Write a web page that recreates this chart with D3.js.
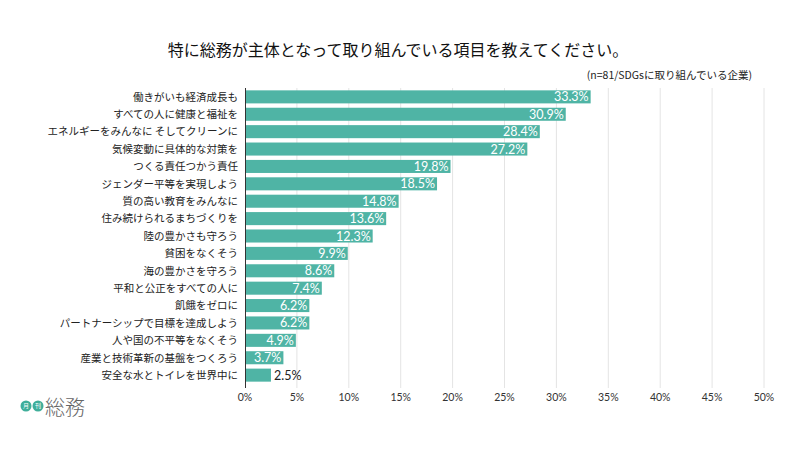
<!DOCTYPE html>
<html><head><meta charset="utf-8">
<script src="https://cdn.jsdelivr.net/npm/d3@7"></script>
<style>body{margin:0;background:#fff}svg{display:block}</style>
</head><body><svg id="c" width="800" height="450"></svg>
<script>
const categories = ["働きがいも経済成長も","すべての人に健康と福祉を","エネルギーをみんなに そしてクリーンに","気候変動に具体的な対策を","つくる責任つかう責任","ジェンダー平等を実現しよう","質の高い教育をみんなに","住み続けられるまちづくりを","陸の豊かさも守ろう","貧困をなくそう","海の豊かさを守ろう","平和と公正をすべての人に","飢餓をゼロに","パートナーシップで目標を達成しよう","人や国の不平等をなくそう","産業と技術革新の基盤をつくろう","安全な水とトイレを世界中に"];
const values = [33.3,30.9,28.4,27.2,19.8,18.5,14.8,13.6,12.3,9.9,8.6,7.4,6.2,6.2,4.9,3.7,2.5];
const ticks = [0,5,10,15,20,25,30,35,40,45,50];
const title = "特に総務が主体となって取り組んでいる項目を教えてください。";
const subtitle = "(n=81/SDGsに取り組んでいる企業)";

const jp = "'Noto Sans CJK JP', sans-serif";
const num = "Lato, 'Noto Sans', sans-serif";
const svg = d3.select("#c");
const x = d3.scaleLinear().domain([0,50]).range([245,764]);
const y = d3.scaleBand().domain(categories).range([86,386]).paddingInner(0.25).paddingOuter(0.25);
const plotTop = 88, plotBottom = 388;

// grid
svg.append("g").selectAll("line").data(ticks.slice(1)).join("line")
  .attr("x1",d=>x(d)).attr("x2",d=>x(d)).attr("y1",plotTop).attr("y2",plotBottom)
  .attr("stroke","#e4e4e4").attr("stroke-width",1);

// bars
svg.append("g").selectAll("rect").data(values).join("rect")
  .attr("x",x(0)).attr("y",(d,i)=>y(categories[i]))
  .attr("width",d=>x(d)-x(0)).attr("height",y.bandwidth())
  .attr("fill","#4fb4a5");

// value labels
svg.append("g").selectAll("text").data(values).join("text")
  .attr("x",d=> d<3 ? x(d)+3 : x(d)-2)
  .attr("y",(d,i)=>y(categories[i])+y.bandwidth()/2)
  .attr("dy","0.36em")
  .attr("text-anchor",d=> d<3 ? "start":"end")
  .attr("fill",d=> d<3 ? "#222":"#fff")
  .attr("font-family",num).attr("font-size",12.5)
  .text(d=>d.toFixed(1)+"%");

// axis line
svg.append("line").attr("x1",x(0)+0.5).attr("x2",x(0)+0.5).attr("y1",plotTop).attr("y2",plotBottom)
  .attr("stroke","#333").attr("stroke-width",1);

// category labels
svg.append("g").selectAll("text").data(categories).join("text")
  .attr("x",238).attr("y",d=>y(d)+y.bandwidth()/2).attr("dy","0.36em")
  .attr("text-anchor","end").attr("font-family",jp).attr("font-size",10.5).attr("fill","#222")
  .text(d=>d);

// tick labels
svg.append("g").selectAll("text").data(ticks).join("text")
  .attr("x",d=>x(d)).attr("y",397).attr("dy","0.36em").attr("text-anchor","middle")
  .attr("font-family",num).attr("font-size",10.5).attr("fill","#333")
  .text(d=>d+"%");

// title
svg.append("text").attr("x",398).attr("y",50).attr("dy","0.36em").attr("text-anchor","middle")
  .attr("font-family",jp).attr("font-size",16).attr("fill","#111").text(title);
svg.append("text").attr("x",752).attr("y",75).attr("dy","0.36em").attr("text-anchor","end")
  .attr("font-family",jp).attr("font-size",10.5).attr("fill","#222").text(subtitle);

// logo
const logo = svg.append("g");
[["月",26],["刊",38]].forEach(([t,cx])=>{
  logo.append("circle").attr("cx",cx).attr("cy",406).attr("r",5.5).attr("fill","#3fae9a");
  logo.append("text").attr("x",cx).attr("y",406).attr("dy","0.36em").attr("text-anchor","middle")
    .attr("font-family",jp).attr("font-size",6).attr("fill","#fff").text(t);
});
logo.append("text").attr("x",45).attr("y",408).attr("dy","0.36em")
  .attr("font-family",jp).attr("font-weight",300).attr("font-size",20).attr("fill","#666").text("総務");
</script></body></html>
